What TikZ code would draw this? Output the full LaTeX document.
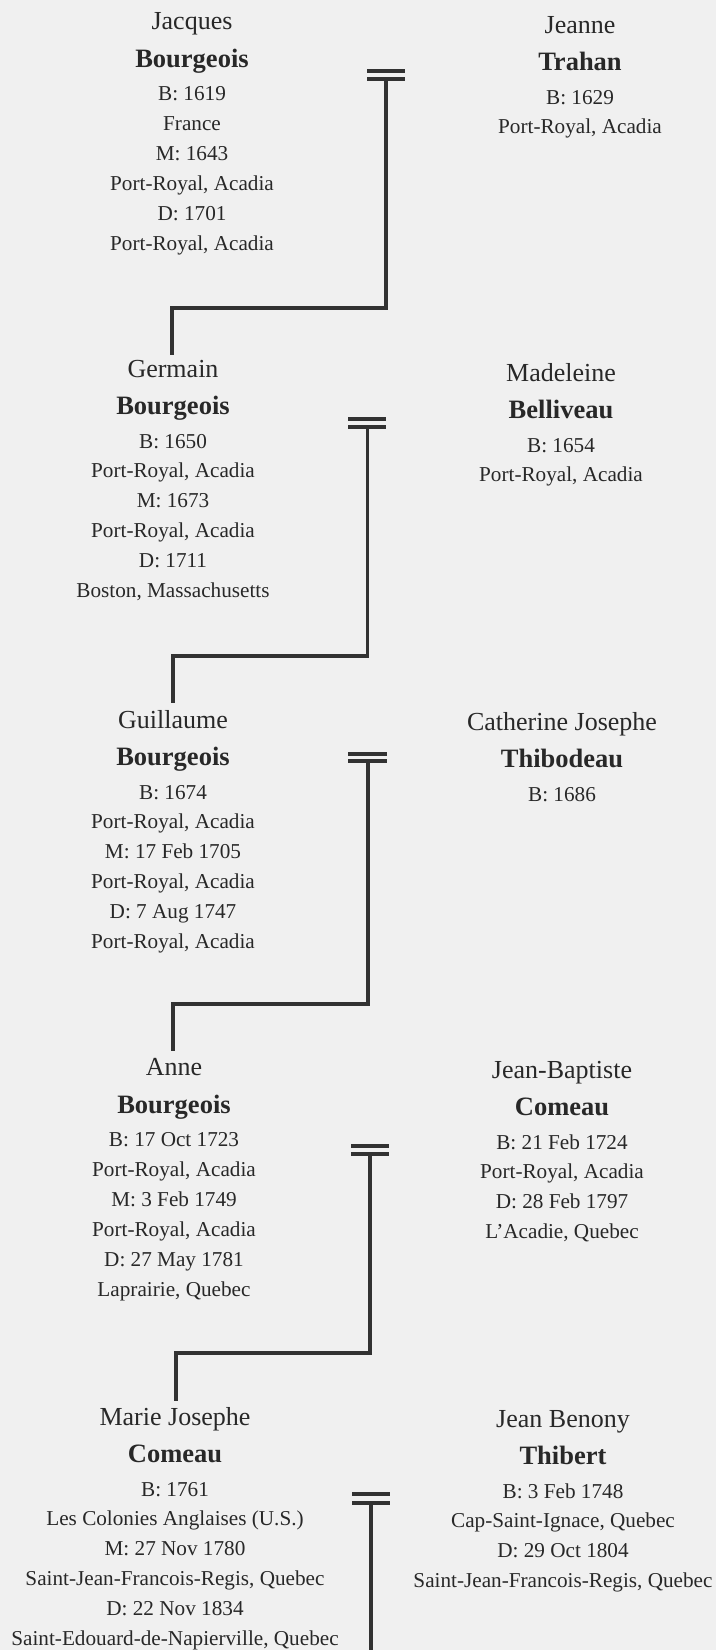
\documentclass[tikz,border=0pt]{standalone}
\usepackage{fontspec}
\setmainfont{Liberation Serif}
\definecolor{bg}{RGB}{240,240,240}
\definecolor{ink}{RGB}{40,40,40}
\definecolor{wire}{RGB}{50,50,50}
\tikzset{
  fn/.style={font=\fontsize{26}{30}\selectfont, anchor=base, inner sep=0pt, text=ink},
  sn/.style={font=\fontsize{26.5}{30}\selectfont\bfseries, anchor=base, inner sep=0pt, text=ink},
  dl/.style={font=\fontsize{21.2}{25}\selectfont, anchor=base, inner sep=0pt, text=ink},
  wedbar/.style={draw=wire, line width=4pt},
  link/.style={draw=wire, line width=3.6pt, line join=miter},
}
\newcommand\personblock[6]{%
  \node[fn] (#1-f) at (#2,#3) {#4};
  \node[sn] (#1-s) at (#2,#3+37.5) {#5};
  \foreach \t [count=\i] in {#6} {
    \node[dl] (#1-\i) at (#2,{#3+71+29.9*(\i-1)}) {\t};
  }
}
\begin{document}
\begin{tikzpicture}[x=1pt,y=-1pt]
\useasboundingbox[fill=bg] (0,0) rectangle (716,1650);

% generation 1
\personblock{g1}{192}{29.5}{Jacques}{Bourgeois}{{B: 1619},{France},{M: 1643},{Port-Royal, Acadia},{D: 1701},{Port-Royal, Acadia}}
\personblock{g1w}{580}{33}{Jeanne}{Trahan}{{B: 1629},{Port-Royal, Acadia}}
% generation 2
\personblock{g2}{173}{377}{Germain}{Bourgeois}{{B: 1650},{Port-Royal, Acadia},{M: 1673},{Port-Royal, Acadia},{D: 1711},{Boston, Massachusetts}}
\personblock{g2w}{561}{381}{Madeleine}{Belliveau}{{B: 1654},{Port-Royal, Acadia}}
% generation 3
\personblock{g3}{173}{728}{Guillaume}{Bourgeois}{{B: 1674},{Port-Royal, Acadia},{M: 17 Feb 1705},{Port-Royal, Acadia},{D: 7 Aug 1747},{Port-Royal, Acadia}}
\personblock{g3w}{562}{730}{Catherine Josephe}{Thibodeau}{{B: 1686}}
% generation 4
\personblock{g4}{174}{1075.5}{Anne}{Bourgeois}{{B: 17 Oct 1723},{Port-Royal, Acadia},{M: 3 Feb 1749},{Port-Royal, Acadia},{D: 27 May 1781},{Laprairie, Quebec}}
\personblock{g4h}{562}{1078}{Jean-Baptiste}{Comeau}{{B: 21 Feb 1724},{Port-Royal, Acadia},{D: 28 Feb 1797},{L'Acadie, Quebec}}
% generation 5
\personblock{g5}{175}{1425}{Marie Josephe}{Comeau}{{B: 1761},{Les Colonies Anglaises (U.S.)},{M: 27 Nov 1780},{Saint-Jean-Francois-Regis, Quebec},{D: 22 Nov 1834},{Saint-Edouard-de-Napierville, Quebec}}
\personblock{g5h}{563}{1427}{Jean Benony}{Thibert}{{B: 3 Feb 1748},{Cap-Saint-Ignace, Quebec},{D: 29 Oct 1804},{Saint-Jean-Francois-Regis, Quebec}}

% marriage bars
\draw[wedbar] (367,71) -- (405,71);   \draw[wedbar] (367,79) -- (405,79);
\draw[wedbar] (348,419) -- (386,419); \draw[wedbar] (348,427) -- (386,427);
\draw[wedbar] (348,754) -- (387,754); \draw[wedbar] (348,761) -- (387,761);
\draw[wedbar] (351,1146) -- (389,1146); \draw[wedbar] (351,1154) -- (389,1154);
\draw[wedbar] (352,1494) -- (390,1494); \draw[wedbar] (352,1503) -- (390,1503);

\coordinate (m1) at (386,79);
\coordinate (m2) at (367.5,427);
\coordinate (m3) at (368,761);
\coordinate (m4) at (370,1154);
\coordinate (m5) at (371,1503);
\coordinate (s2) at (172,355);
\coordinate (s3) at (173,703);
\coordinate (s4) at (173,1051);
\coordinate (s5) at (176,1401);
\coordinate (e5) at (371,1652);

% descent connectors
\draw[link] (m1) -- ++(0,229) -| (s2);
\draw[link] (m2) -- ++(0,229) -| (s3);
\draw[link] (m3) -- ++(0,243) -| (s4);
\draw[link] (m4) -- ++(0,199) -| (s5);
\draw[link] (m5) -- (e5);
\end{tikzpicture}
\end{document}
